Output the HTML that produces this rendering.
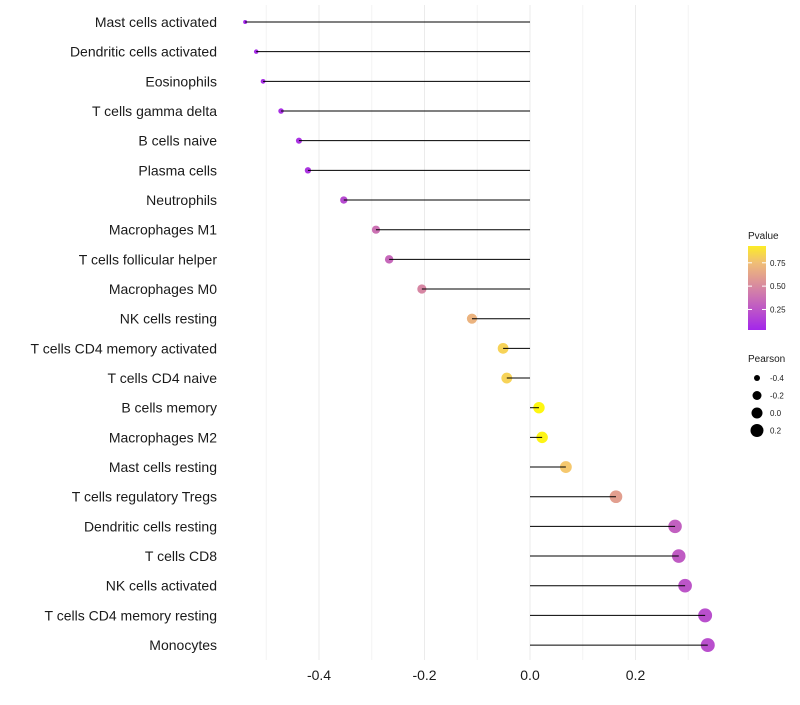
<!DOCTYPE html>
<html><head><meta charset="utf-8"><style>
body{margin:0;background:#fff;font-family:"Liberation Sans",sans-serif;}
svg text{font-family:"Liberation Sans",sans-serif;}
</style></head><body>
<svg id="chart" width="800" height="700"></svg>
<script>
const categories=["Mast cells activated","Dendritic cells activated","Eosinophils","T cells gamma delta","B cells naive","Plasma cells","Neutrophils","Macrophages M1","T cells follicular helper","Macrophages M0","NK cells resting","T cells CD4 memory activated","T cells CD4 naive","B cells memory","Macrophages M2","Mast cells resting","T cells regulatory  Tregs","Dendritic cells resting","T cells CD8","NK cells activated","T cells CD4 memory resting","Monocytes"];
const pearson=[-0.540,-0.519,-0.506,-0.472,-0.438,-0.421,-0.353,-0.292,-0.267,-0.205,-0.110,-0.051,-0.044,0.017,0.023,0.068,0.163,0.275,0.282,0.294,0.332,0.337];
const pvalue=[0.03,0.05,0.06,0.08,0.09,0.1,0.2,0.38,0.34,0.48,0.7,0.84,0.84,0.97,0.96,0.8,0.6,0.3,0.28,0.25,0.22,0.22];
const xTicks=[-0.4,-0.2,0.0,0.2];
const pLegend=[0.25,0.50,0.75];
const sizeLegend=[-0.4,-0.2,0.0,0.2];

const NS="http://www.w3.org/2000/svg";
const svg=document.getElementById('chart');
function mk(t,a,p){const e=document.createElementNS(NS,t);for(const k in a)e.setAttribute(k,a[k]);(p||svg).appendChild(e);return e;}
const x=v=>530+v*527.5;
const y=i=>22+i*29.67;
function lerp(a,b,t){return a+(b-a)*t;}
function col(p){
  const stops=[[0,[160,32,240]],[0.5,[216,138,160]],[0.8,[245,200,110]],[1,[255,255,0]]];
  let i=0;while(i<stops.length-2&&p>stops[i+1][0])i++;
  const a=stops[i],b=stops[i+1];const t=Math.max(0,Math.min(1,(p-a[0])/(b[0]-a[0])));
  return `rgb(${[0,1,2].map(k=>Math.round(lerp(a[1][k],b[1][k],t))).join(',')})`;
}
const rad=v=>Math.sqrt(4+45*Math.max(0,(v+0.54))/0.88);

for(let v=-0.5;v<=0.31;v+=0.1){
  const major=Math.abs(Math.round(v*10))%2===0;
  const g=mk('line',{x1:x(v),x2:x(v),y1:5,y2:660,stroke:major?'#ebebeb':'#f3f3f3','stroke-width':1});
  
  
}
xTicks.forEach(v=>{
  const t=mk('text',{x:x(v),y:680,'text-anchor':'middle','font-size':14,fill:'#1a1a1a'});
  t.textContent=v.toFixed(1);
  
  
});
categories.forEach((c,i)=>{
  const t=mk('text',{x:217,y:y(i)+5,'text-anchor':'end','font-size':14,fill:'#1a1a1a'});
  t.textContent=c;
  
  
  const p=mk('circle',{cx:x(pearson[i]),cy:y(i),r:rad(pearson[i]),fill:col(pvalue[i])});
  
  
  const l=mk('line',{x1:x(0),x2:x(pearson[i]),y1:y(i),y2:y(i),stroke:'#000','stroke-width':1});
  
  
});
const defs=mk('defs',{});
const lg=mk('linearGradient',{id:'pg',x1:0,y1:1,x2:0,y2:0},defs);
[0,0.2,0.4,0.6,0.8,1].forEach(s=>mk('stop',{offset:s,'stop-color':col(0.03+s*0.9)},lg));
const lt=mk('text',{x:748,y:239,'font-size':10,fill:'#1a1a1a'});lt.textContent='Pvalue';


const bar=mk('rect',{x:748,y:246,width:18,height:84,fill:'url(#pg)'});


const py=p=>330-(p-0.03)/0.9*84;
pLegend.forEach(p=>{
  mk('line',{x1:748,x2:752,y1:py(p),y2:py(p),stroke:'#fff'});
  mk('line',{x1:762,x2:766,y1:py(p),y2:py(p),stroke:'#fff'});
  const t=mk('text',{x:770,y:py(p)+3,'font-size':8,fill:'#1a1a1a'});t.textContent=p.toFixed(2);
  
  
});
const st=mk('text',{x:748,y:362,'font-size':10,fill:'#1a1a1a'});st.textContent='Pearson';


sizeLegend.forEach((v,i)=>{
  const cy=378+i*17.5;
  const c=mk('circle',{cx:757,cy:cy,r:[3,4.5,5.5,6.5][i],fill:'#000'});
  
  
  const t=mk('text',{x:770,y:cy+3,'font-size':8,fill:'#1a1a1a'});t.textContent=v.toFixed(1);
  
  
});
</script>
</body></html>
